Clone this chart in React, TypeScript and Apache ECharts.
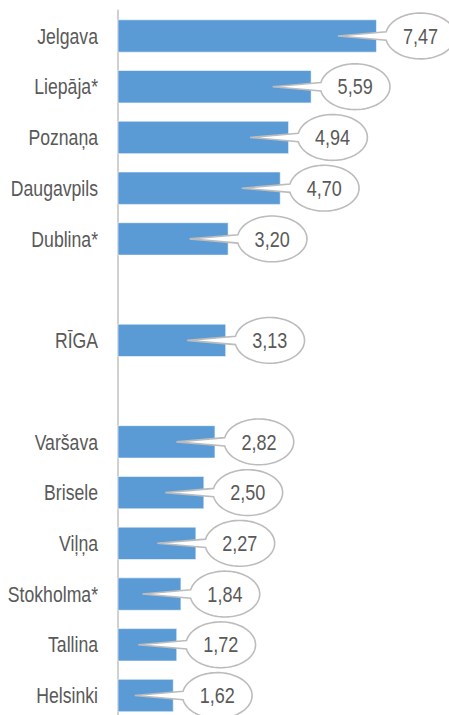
import React, { useEffect, useRef } from "react";
import * as echarts from "echarts";

const categories = [
  "Jelgava",
  "Liepāja*",
  "Poznaņa",
  "Daugavpils",
  "Dublina*",
  " ",
  "RĪGA",
  "  ",
  "Varšava",
  "Brisele",
  "Viļņa",
  "Stokholma*",
  "Tallina",
  "Helsinki",
];
const values: (number | null)[] = [
  7.47, 5.59, 4.94, 4.7, 3.2, null, 3.13, null, 2.82, 2.5, 2.27, 1.84, 1.72, 1.62,
];

const FONT = '"Liberation Sans", Arial, sans-serif';
const TEXT_COLOR = "#595959";
const NARROW = 0.82;

export default function App() {
  const ref = useRef<HTMLDivElement>(null);
  useEffect(() => {
    if (!ref.current) return;
    const chart = echarts.init(ref.current, undefined, { renderer: "svg" });
    const calloutData = values
      .map((v, i) => (v == null ? null : [v, i]))
      .filter((d) => d != null);
    const labelData = categories
      .map((c, i) => (c.trim() === "" ? null : [0, i, c]))
      .filter((d) => d != null);
    chart.setOption({
      animation: false,
      grid: {
        left: 117.5,
        top: 10.6,
        width: 312.6,
        height: 710.3,
        containLabel: false,
        outerBoundsMode: "none",
      },
      xAxis: {
        type: "value",
        min: 0,
        max: 9,
        show: false,
        splitLine: { show: false },
      },
      yAxis: {
        type: "category",
        inverse: true,
        data: categories,
        axisTick: { show: false },
        axisLine: { show: true, lineStyle: { color: "#d0d0d0", width: 2 } },
        axisLabel: { show: false },
        splitLine: { show: false },
      },
      series: [
        {
          type: "bar",
          data: values.map((v) => (v == null ? "-" : v)),
          barWidth: 33.4,
          itemStyle: {
            color: "#5b9bd5",
            borderColor: "rgba(255,255,255,0.55)",
            borderWidth: 1,
          },
          z: 2,
        },
        {
          type: "custom",
          data: labelData,
          encode: { x: 0, y: 1 },
          z: 3,
          clip: false,
          silent: true,
          renderItem: (params: any, api: any) => {
            const idx = api.value(1);
            const pt = api.coord([0, idx]);
            return {
              type: "text",
              x: pt[0] - 19.5,
              y: pt[1],
              scaleX: NARROW,
              style: {
                text: categories[idx],
                fill: TEXT_COLOR,
                fontSize: 21.5,
                fontFamily: FONT,
                align: "right",
                verticalAlign: "middle",
                textAlign: "right",
                textVerticalAlign: "middle",
              },
            };
          },
        },
        {
          type: "custom",
          data: calloutData,
          encode: { x: 0, y: 1 },
          z: 3,
          clip: false,
          renderItem: (params: any, api: any) => {
            const v = api.value(0);
            const idx = api.value(1);
            const pt = api.coord([v, idx]);
            const endX = pt[0];
            const cy = pt[1];
            const cx = endX + 43.5;
            const rx = 34.8;
            const ry = 22.9;
            const tip = [endX - 39, cy];
            const h = 4.2;
            const t0 = Math.asin(h / ry);
            const pts: number[][] = [];
            const n = 90;
            for (let k = 0; k <= n; k++) {
              const a = t0 + ((2 * Math.PI - 2 * t0) * k) / n;
              pts.push([cx - rx * Math.cos(a), cy - ry * Math.sin(a)]);
            }
            pts.push(tip);
            const label = v.toFixed(2).replace(".", ",");
            return {
              type: "group",
              children: [
                {
                  type: "polygon",
                  shape: { points: pts },
                  style: { fill: "#ffffff", stroke: "#bcbcbc", lineWidth: 1.6 },
                },
                {
                  type: "text",
                  x: cx,
                  y: cy,
                  scaleX: NARROW,
                  style: {
                    text: label,
                    fill: TEXT_COLOR,
                    fontSize: 22,
                    fontFamily: FONT,
                    align: "center",
                    verticalAlign: "middle",
                    textAlign: "center",
                    textVerticalAlign: "middle",
                  },
                },
              ],
            };
          },
        },
      ],
    });
    return () => chart.dispose();
  }, []);
  return (
    <div
      ref={ref}
      style={{ position: "absolute", left: 0, top: 0, width: 449, height: 715, background: "#fff" }}
    />
  );
}
